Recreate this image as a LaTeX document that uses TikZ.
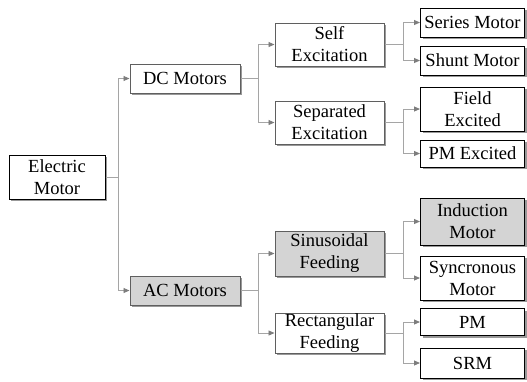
\documentclass[tikz,border=0pt]{standalone}
\usepackage{fontspec}
\setmainfont{Liberation Serif}
\usetikzlibrary{arrows.meta,shadows}
\definecolor{midgray}{RGB}{95,95,95}
\definecolor{boxgray}{RGB}{212,212,212}
\definecolor{conngray}{RGB}{165,165,165}
\definecolor{arrowgray}{RGB}{125,125,125}
\begin{document}
\begin{tikzpicture}[x=1pt,y=-1pt,
  box/.style={draw=black, line width=1pt, fill=white, align=center, inner sep=0pt,
    font=\fontsize{18.5}{22}\selectfont,
    drop shadow={shadow xshift=2pt, shadow yshift=-2pt, fill=black, opacity=0.4}},
  midbox/.style={box, draw=midgray},
  shaded/.style={fill=boxgray},
  conn/.style={draw=conngray, line width=0.9pt,
    -{Triangle[length=6pt,width=5pt,color=arrowgray,fill=arrowgray]}}]
\useasboundingbox (0,0) rectangle (527,381);

% root
\node[box, minimum width=96, minimum height=44] (em) at (57,177) {Electric\\Motor};
% level 1
\node[midbox, minimum width=110, minimum height=29] (dc) at (185,78.5) {DC Motors};
\node[midbox, shaded, minimum width=110, minimum height=29] (ac) at (185,290.5) {AC Motors};
% level 2
\node[midbox, minimum width=109, minimum height=43] (self) at (329.5,44.5) {Self\\Excitation};
\node[midbox, minimum width=109, minimum height=43] (sep) at (329.5,122.5) {Separated\\Excitation};
\node[midbox, shaded, minimum width=109, minimum height=45] (sin) at (329.5,253.5) {Sinusoidal\\Feeding};
\node[midbox, minimum width=109, minimum height=40] (rect) at (329.5,333) {Rectangular\\Feeding};
% leaves
\node[box, minimum width=104, minimum height=29] (series) at (472.5,22.5) {Series Motor};
\node[box, minimum width=104, minimum height=29] (shunt) at (472.5,60.5) {Shunt Motor};
\node[box, minimum width=104, minimum height=44] (field) at (472.5,109) {Field\\Excited};
\node[box, minimum width=104, minimum height=27] (pmexc) at (472.5,153.5) {PM Excited};
\node[box, shaded, minimum width=104, minimum height=47] (ind) at (472.5,221.5) {Induction\\Motor};
\node[box, minimum width=104, minimum height=44] (sync) at (472.5,278) {Syncronous\\Motor};
\node[box, minimum width=104, minimum height=27] (pm) at (472.5,322) {PM};
\node[box, minimum width=104, minimum height=30] (srm) at (472.5,363) {SRM};

% trunk x positions
\coordinate (t0) at (118,0);
\coordinate (t1) at (258,0);
\coordinate (t2) at (403,0);

\draw[conn] (em.east) -- (em.east -| t0) |- (dc.west);
\draw[conn] (em.east) -- (em.east -| t0) |- (ac.west);

\draw[conn] (dc.east) -- (dc.east -| t1) |- (self.west);
\draw[conn] (dc.east) -- (dc.east -| t1) |- (sep.west);
\draw[conn] (ac.east) -- (ac.east -| t1) |- (sin.west);
\draw[conn] (ac.east) -- (ac.east -| t1) |- (rect.west);

\draw[conn] (self.east) -- (self.east -| t2) |- (series.west);
\draw[conn] (self.east) -- (self.east -| t2) |- (shunt.west);
\draw[conn] (sep.east) -- (sep.east -| t2) |- (field.west);
\draw[conn] (sep.east) -- (sep.east -| t2) |- (pmexc.west);
\draw[conn] (sin.east) -- (sin.east -| t2) |- (ind.west);
\draw[conn] (sin.east) -- (sin.east -| t2) |- (sync.west);
\draw[conn] (rect.east) -- (rect.east -| t2) |- (pm.west);
\draw[conn] (rect.east) -- (rect.east -| t2) |- (srm.west);
\end{tikzpicture}
\end{document}
